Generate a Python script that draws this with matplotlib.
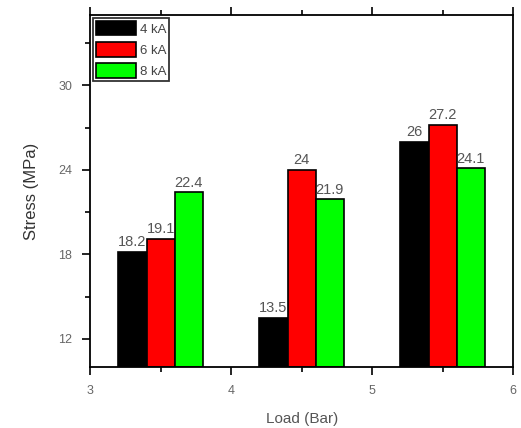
import numpy as np
import matplotlib.pyplot as plt
from matplotlib.ticker import MultipleLocator

plt.rcParams['font.family'] = ['Liberation Sans', 'DejaVu Sans']

loads = [3.5, 4.5, 5.5]
series = ['4 kA', '6 kA', '8 kA']
stress_4ka = [18.2, 13.5, 26]
stress_6ka = [19.1, 24, 27.2]
stress_8ka = [22.4, 21.9, 24.1]
colors = ['#000000', '#ff0000', '#00ff00']

fig = plt.figure(figsize=(5.21, 4.28), dpi=100)
ax = fig.add_axes([0.173, 0.1425, 0.812, 0.8225])

w = 0.2
x = np.array(loads)
for i, (vals, lab, c) in enumerate(zip([stress_4ka, stress_6ka, stress_8ka], series, colors)):
    pos = x + (i - 1) * w
    ax.bar(pos, np.array(vals) - 10, width=w, bottom=10, color=c, edgecolor='black',
           linewidth=1.2, label=lab)
    for p, v in zip(pos, vals):
        ax.text(p, v + 0.2, f'{v:g}', ha='center', va='bottom', fontsize=10.5, color='#555555')

ax.set_xlim(3, 6)
ax.set_ylim(10, 35)
ax.xaxis.set_major_locator(MultipleLocator(1))
ax.xaxis.set_minor_locator(MultipleLocator(0.5))
ax.yaxis.set_minor_locator(MultipleLocator(3))
ax.set_yticks([12, 18, 24, 30])
ax.tick_params(which='both', direction='out', top=True, right=False, width=1.2,
               labelsize=9, labelcolor='#666666', pad=7)
ax.tick_params(which='major', length=6)
ax.tick_params(which='minor', length=3.5)
for s in ax.spines.values():
    s.set_linewidth(1.3)

ax.set_xlabel('Load (Bar)', fontsize=11, color='#555555', labelpad=11)
ax.set_ylabel('Stress (MPa)', fontsize=12, color='#333333', labelpad=14)

leg = ax.legend(loc='upper left', fontsize=9.5, frameon=True, fancybox=False,
                edgecolor='black', borderaxespad=0.2, handlelength=3.0,
                handleheight=1.3, labelspacing=0.5, borderpad=0.25, handletextpad=0.3)
for t in leg.get_texts():
    t.set_color('#444444')
leg.get_frame().set_linewidth(1.3)

fig.savefig('out.png', dpi=100)
